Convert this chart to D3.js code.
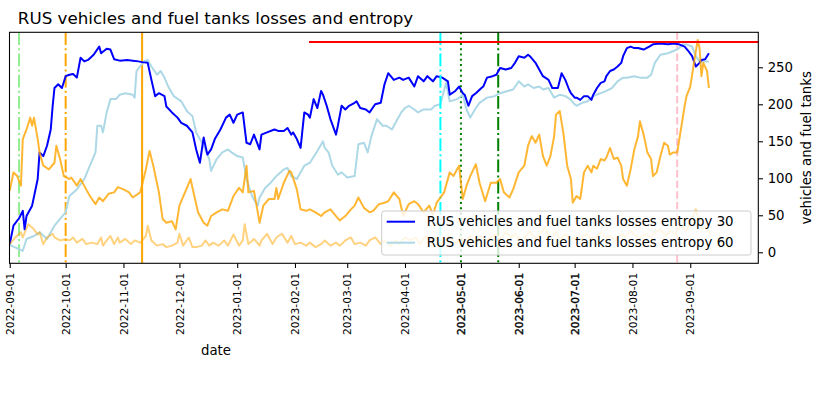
<!DOCTYPE html>
<html>
<head>
<meta charset="utf-8">
<script src="https://cdn.jsdelivr.net/npm/d3@7"></script>
<style>
  body { margin: 0; background: #fff; }
  svg { font-family: "DejaVu Sans", sans-serif; }
</style>
</head>
<body>
<svg id="chart" width="838" height="396"></svg>
<script>
// all series are [days since startDate, value]
const startDate = '2022-09-01';

const entropy30 = [[0,11],[2,36],[5,46],[7,56],[8,31],[9,49],[12,63],[15,99],[16,135],[18,130],[20,144],[22,166],[23,197],[24,222],[26,227],[28,222],[30,238],[32,240],[34,241],[36,236],[38,263],[40,258],[42,260],[45,267],[48,278],[49,269],[52,275],[54,274],[56,261],[59,259],[63,260],[66,259],[69,258],[71,257],[74,256],[76,233],[78,211],[80,215],[83,211],[84,197],[87,189],[90,182],[92,175],[95,171],[98,162],[100,139],[102,121],[104,155],[106,132],[108,139],[110,153],[113,166],[116,182],[118,186],[120,175],[122,186],[125,189],[127,148],[129,146],[131,159],[134,139],[135,159],[138,162],[142,166],[144,164],[147,164],[149,168],[151,159],[152,162],[154,153],[156,141],[158,189],[160,186],[161,182],[163,207],[165,195],[167,218],[168,213],[170,198],[172,180],[175,159],[176,171],[178,198],[180,193],[182,198],[185,202],[186,204],[188,195],[191,193],[193,189],[196,200],[199,202],[201,227],[203,242],[206,233],[209,236],[211,233],[214,236],[217,224],[219,238],[222,231],[224,238],[227,231],[229,238],[232,236],[235,231],[236,213],[239,218],[241,224],[243,215],[244,213],[246,198],[248,211],[250,215],[253,222],[254,224],[256,236],[259,238],[261,240],[263,249],[266,247],[269,249],[271,256],[273,265],[276,263],[278,267],[279,265],[282,256],[284,247],[286,238],[289,233],[291,222],[294,222],[296,242],[298,233],[300,220],[301,215],[303,209],[304,209],[306,206],[308,211],[310,211],[312,206],[313,213],[315,222],[317,229],[319,231],[320,238],[322,245],[324,247],[326,251],[328,256],[329,265],[331,276],[333,278],[335,276],[337,276],[340,274],[343,278],[345,281],[349,282],[353,281],[356,282],[359,281],[362,278],[364,272],[366,265],[368,251],[370,256],[371,260],[373,261],[375,269]];

const entropy60 = [[0,10],[7,2],[9,18],[13,22],[16,27],[20,18],[24,36],[27,45],[30,54],[32,76],[36,85],[40,99],[43,117],[46,135],[47,171],[49,171],[50,162],[52,189],[54,207],[57,207],[59,213],[62,215],[66,213],[67,209],[68,245],[72,258],[74,260],[76,251],[79,240],[81,245],[83,236],[85,224],[88,211],[92,204],[95,191],[98,184],[100,162],[104,144],[107,126],[108,110],[111,126],[114,135],[117,139],[119,135],[122,130],[125,128],[127,99],[130,76],[133,63],[134,74],[137,87],[140,94],[143,103],[147,112],[149,114],[151,103],[154,99],[158,117],[161,121],[165,137],[168,150],[169,141],[171,135],[173,117],[176,105],[178,108],[181,101],[185,103],[187,146],[190,148],[192,135],[194,157],[197,180],[200,171],[202,171],[205,166],[208,180],[210,189],[212,195],[214,198],[217,193],[219,189],[222,193],[226,193],[228,198],[231,200],[234,229],[236,204],[240,207],[243,213],[245,193],[247,182],[250,195],[252,202],[256,209],[260,211],[263,215],[267,218],[270,220],[273,231],[276,224],[278,227],[281,222],[284,224],[286,220],[289,222],[292,209],[295,213],[298,211],[301,206],[303,200],[304,198],[307,202],[310,204],[313,211],[317,215],[320,218],[323,222],[326,231],[329,236],[331,236],[335,238],[338,236],[342,236],[344,240],[346,256],[349,267],[353,269],[356,272],[359,276],[361,281],[363,281],[366,278],[368,265],[370,258],[373,258],[375,258]];

const lossesRolling = [[0,83],[2,108],[4,103],[6,90],[7,153],[9,166],[11,182],[12,171],[13,182],[15,153],[16,135],[18,117],[21,112],[24,121],[25,144],[27,126],[29,103],[32,99],[33,101],[36,90],[38,99],[41,85],[43,76],[46,65],[48,74],[50,69],[53,79],[56,81],[58,88],[61,85],[64,81],[66,74],[70,81],[73,112],[75,137],[77,117],[80,81],[82,45],[84,40],[87,42],[89,31],[91,63],[94,81],[97,99],[99,76],[101,54],[104,40],[106,36],[108,49],[111,54],[114,58],[117,56],[120,76],[123,87],[125,81],[127,117],[128,81],[131,83],[134,40],[136,63],[139,72],[142,72],[143,87],[144,72],[147,94],[150,110],[151,108],[154,85],[156,58],[159,56],[161,58],[164,54],[167,49],[169,54],[172,58],[175,49],[177,43],[180,49],[183,58],[185,63],[187,74],[190,60],[193,54],[195,56],[198,65],[201,67],[203,69],[206,81],[209,72],[211,49],[214,65],[217,69],[219,65],[222,54],[225,63],[227,51],[229,67],[233,81],[236,108],[238,103],[241,117],[243,72],[245,90],[247,103],[250,119],[252,94],[255,69],[258,94],[261,94],[263,99],[265,81],[268,74],[270,85],[273,108],[276,117],[278,144],[280,157],[282,148],[284,159],[286,130],[288,117],[290,130],[292,157],[293,186],[295,191],[297,160],[299,117],[301,99],[302,67],[304,76],[306,72],[308,108],[310,117],[312,108],[313,117],[315,113],[317,126],[319,124],[320,128],[322,141],[324,126],[326,128],[328,117],[329,99],[331,90],[333,112],[335,139],[337,157],[338,177],[340,159],[342,135],[344,126],[345,103],[347,108],[349,130],[351,148],[353,144],[354,132],[356,135],[358,135],[360,166],[362,198],[363,211],[365,224],[367,256],[369,287],[370,276],[371,238],[372,256],[374,245],[375,222]];

const lossesDaily = [[0,11],[3,20],[6,27],[7,20],[10,38],[13,31],[15,24],[16,27],[18,11],[20,20],[23,25],[24,20],[27,16],[30,18],[32,16],[34,20],[36,13],[39,18],[41,11],[44,13],[47,11],[49,20],[50,9],[52,16],[54,22],[56,11],[58,20],[59,13],[62,18],[65,11],[67,16],[70,13],[73,22],[74,36],[76,16],[79,9],[82,11],[84,7],[87,9],[90,13],[91,25],[93,9],[96,20],[98,7],[100,7],[103,9],[105,16],[107,9],[109,13],[112,9],[115,16],[117,9],[120,24],[123,9],[125,16],[126,38],[128,11],[131,18],[134,9],[135,16],[138,25],[141,11],[143,20],[146,25],[149,13],[151,22],[153,11],[156,13],[159,9],[161,13],[164,7],[167,11],[169,16],[172,9],[175,13],[177,9],[180,16],[183,20],[185,11],[188,13],[191,9],[193,16],[196,20],[199,11],[201,16],[204,9],[207,16],[209,11],[212,20],[215,16],[218,20],[220,11],[223,22],[226,13],[228,20],[231,11],[234,18],[236,22],[239,11],[242,20],[244,13],[247,22],[250,11],[252,22],[255,16],[258,20],[261,25],[263,16],[266,27],[269,20],[271,25],[274,16],[277,22],[279,29],[282,18],[285,27],[287,34],[290,20],[293,27],[295,18],[298,25],[301,16],[304,22],[306,18],[309,25],[312,18],[314,20],[317,27],[320,20],[322,22],[325,16],[328,25],[330,20],[333,29],[336,22],[338,18],[341,25],[344,20],[346,27],[349,31],[352,22],[354,29],[357,25],[360,36],[363,29],[365,40],[368,58],[371,31],[373,34],[376,25]];

const eventDates = ['2022-09-06', '2022-10-01', '2022-11-11', '2023-04-20', '2023-05-01', '2023-05-21', '2023-08-25'];
const thresholdValue = 284.2;
const monthTicks = ['2022-09-01','2022-10-01','2022-11-01','2022-12-01','2023-01-01','2023-02-01','2023-03-01','2023-04-01','2023-05-01','2023-06-01','2023-07-01','2023-08-01','2023-09-01'];
const yTicks = [0, 50, 100, 150, 200, 250];
const legendLabels = ['RUS vehicles and fuel tanks losses entropy 30', 'RUS vehicles and fuel tanks losses entropy 60'];

const parse = d3.utcParse('%Y-%m-%d');
const fmt = d3.utcFormat('%Y-%m-%d');
const start = parse(startDate);
const toDate = day => d3.utcDay.offset(start, day);

const svg = d3.select('#chart');
const margin = { top: 32.3, right: 79.7, bottom: 132.7, left: 9.5 };
const width = 838 - margin.left - margin.right;
const height = 396 - margin.top - margin.bottom;

const x = d3.scaleUtc()
  .domain([new Date(Date.UTC(2022, 7, 31, 21)), new Date(Date.UTC(2023, 9, 7, 12))])
  .range([0, width]);
const y = d3.scaleLinear().domain([-14.9, 297.3]).range([height, 0]);

const g = svg.append('g').attr('transform', `translate(${margin.left},${margin.top})`);

svg.append('defs').append('clipPath').attr('id', 'plot-clip')
  .append('rect').attr('width', width).attr('height', height);

const lw = 2;
const dashes = {
  solid: null,
  dashed: [3.7 * lw, 1.6 * lw].join(','),
  dashdot: [6.4 * lw, 1.6 * lw, 1 * lw, 1.6 * lw].join(','),
  dotted: [1 * lw, 1.65 * lw].join(',')
};
const eventStyles = [
  { color: 'lightgreen', dash: 'dashdot', top: false },
  { color: 'orange', dash: 'dashdot', top: false },
  { color: 'orange', dash: 'solid', top: false },
  { color: 'cyan', dash: 'dashdot', top: true },
  { color: 'green', dash: 'dotted', top: false },
  { color: 'green', dash: 'dashdot', top: false },
  { color: 'pink', dash: 'dashed', top: false }
];

const back = g.append('g').attr('clip-path', 'url(#plot-clip)');
const front = g.append('g').attr('clip-path', 'url(#plot-clip)');

function drawEvent(layer, i) {
  const s = eventStyles[i];
  const px = x(parse(eventDates[i]));
  layer.append('line')
    .attr('x1', px).attr('x2', px)
    .attr('y1', 0).attr('y2', height)
    .attr('stroke', s.color)
    .attr('stroke-width', lw)
    .attr('stroke-dasharray', dashes[s.dash]);
}
eventDates.forEach((d, i) => { if (!eventStyles[i].top) drawEvent(back, i); });

const line = d3.line()
  .x(d => x(toDate(d[0])))
  .y(d => y(d[1]));

back.append('path').datum(entropy60)
  .attr('fill', 'none').attr('stroke', 'lightblue').attr('stroke-width', lw)
  .attr('stroke-linejoin', 'round').attr('d', line);
back.append('path').datum(entropy30)
  .attr('fill', 'none').attr('stroke', 'blue').attr('stroke-width', lw)
  .attr('stroke-linejoin', 'round').attr('d', line);

// legend (sits under the second axis lines)
const legend = g.append('g').attr('transform', `translate(${381.7 - margin.left},${211 - margin.top})`);
legend.append('rect')
  .attr('width', 369.3).attr('height', 44).attr('rx', 2.5)
  .attr('fill', 'white').attr('fill-opacity', 0.8)
  .attr('stroke', '#cccccc').attr('stroke-width', 1);
const legendColors = ['blue', 'lightblue'];
legendLabels.forEach((label, i) => {
  const row = legend.append('g').attr('transform', `translate(0,${10.7 + i * 21})`);
  row.append('line').attr('x1', 5).attr('x2', 33.3)
    .attr('stroke', legendColors[i]).attr('stroke-width', lw);
  row.append('text').attr('x', 45).attr('dy', '0.35em')
    .attr('font-size', '13.3px').attr('fill', '#000').text(label);
});

eventDates.forEach((d, i) => { if (eventStyles[i].top) drawEvent(front, i); });

front.append('path').datum(lossesDaily)
  .attr('fill', 'none').attr('stroke', 'orange').attr('stroke-opacity', 0.5).attr('stroke-width', lw)
  .attr('stroke-linejoin', 'round').attr('d', line);
front.append('path').datum(lossesRolling)
  .attr('fill', 'none').attr('stroke', 'orange').attr('stroke-opacity', 0.8).attr('stroke-width', lw)
  .attr('stroke-linejoin', 'round').attr('d', line);

// horizontal line from 40% of the axis width
front.append('line')
  .attr('x1', width * 0.4).attr('x2', width)
  .attr('y1', y(thresholdValue)).attr('y2', y(thresholdValue))
  .attr('stroke', 'red').attr('stroke-width', lw);

// frame
g.append('rect').attr('width', width).attr('height', height)
  .attr('fill', 'none').attr('stroke', '#000').attr('stroke-width', 1.07);

const tickLen = 4.67;

// x axis
const xAxis = g.append('g')
  .attr('transform', `translate(0,${height})`)
  .call(d3.axisBottom(x)
    .tickValues(monthTicks.map(parse))
    .tickFormat(fmt)
    .tickSize(tickLen)
    .tickSizeOuter(0));
xAxis.select('.domain').remove();
xAxis.selectAll('.tick line').attr('stroke', '#000').attr('stroke-width', 1.07);
xAxis.selectAll('.tick text')
  .attr('font-family', '"DejaVu Sans", sans-serif')
  .attr('font-size', '10.7px')
  .attr('fill', '#000')
  .attr('text-anchor', 'end')
  .attr('transform', 'translate(0,9.5) rotate(-90)')
  .attr('x', 0).attr('y', 0).attr('dy', '0.35em')
  .attr('stroke', d => ['2023-05-01', '2023-06-01', '2023-07-01'].includes(fmt(d)) ? '#000' : 'none')
  .attr('stroke-width', 0.35);

// right y axis
const yAxis = g.append('g')
  .attr('transform', `translate(${width},0)`)
  .call(d3.axisRight(y).tickValues(yTicks).tickSize(tickLen).tickPadding(tickLen).tickSizeOuter(0));
yAxis.select('.domain').remove();
yAxis.selectAll('.tick line').attr('stroke', '#000').attr('stroke-width', 1.07);
yAxis.selectAll('.tick text')
  .attr('font-family', '"DejaVu Sans", sans-serif')
  .attr('font-size', '13.3px').attr('fill', '#000');

// labels
svg.append('text')
  .attr('x', 216).attr('y', 355)
  .attr('text-anchor', 'middle').attr('font-size', '13.3px')
  .text('date');

svg.append('text')
  .attr('transform', `translate(806.5,${margin.top + height / 2}) rotate(-90)`)
  .attr('text-anchor', 'middle').attr('dy', '0.35em').attr('font-size', '13.3px')
  .text('vehicles and fuel tanks');

svg.append('text')
  .attr('x', 215.5).attr('y', 23.5)
  .attr('text-anchor', 'middle').attr('font-size', '16.7px')
  .text('RUS vehicles and fuel tanks losses and entropy');
</script>
</body>
</html>
